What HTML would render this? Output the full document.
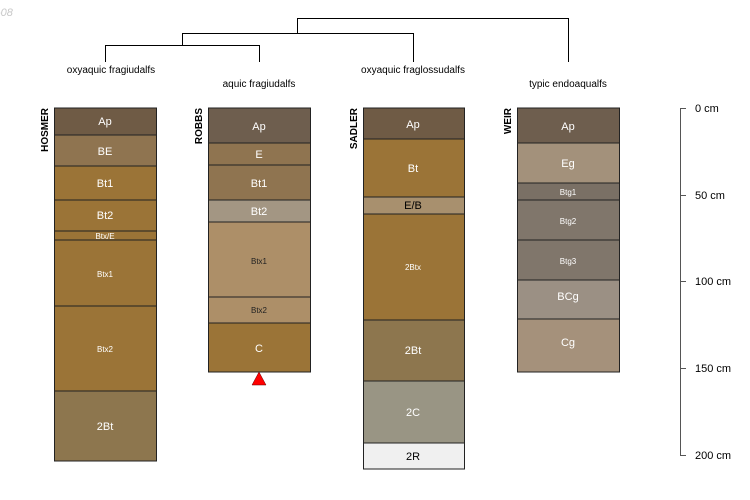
<!DOCTYPE html>
<html><head><meta charset="utf-8"><style>html,body{margin:0;padding:0;background:#fff}svg{display:block}</style></head>
<body>
<svg width="750" height="500" xmlns="http://www.w3.org/2000/svg" font-family="Liberation Sans, sans-serif">
<text x="-3" y="16" font-size="11" font-style="italic" fill="#c8c8c8">-08</text>
<g stroke="#000" stroke-width="1" fill="none">
<path d="M105.5 62V45.5H259.5V62"/>
<path d="M182.5 45V33.5H413.5V62"/>
<path d="M297.5 33V18.5H568.5V62"/>
</g>
<g font-size="10" fill="#000" text-anchor="middle">
<text x="111" y="73">oxyaquic fragiudalfs</text>
<text x="259" y="87">aquic fragiudalfs</text>
<text x="413" y="73">oxyaquic fraglossudalfs</text>
<text x="568" y="87">typic endoaqualfs</text>
</g>
<g stroke="#222" stroke-width="1">
<!-- HOSMER -->
<rect x="54.5" y="108" width="102" height="27" fill="#6f5b45"/>
<rect x="54.5" y="135" width="102" height="31" fill="#8f7450"/>
<rect x="54.5" y="166" width="102" height="34" fill="#9b7437"/>
<rect x="54.5" y="200" width="102" height="31" fill="#9b7437"/>
<rect x="54.5" y="231" width="102" height="9" fill="#9b7437"/>
<rect x="54.5" y="240" width="102" height="66" fill="#9b7437"/>
<rect x="54.5" y="306" width="102" height="85" fill="#9b7437"/>
<rect x="54.5" y="391" width="102" height="70" fill="#8d764e"/>
<!-- ROBBS -->
<rect x="208.5" y="108" width="102" height="35" fill="#6e5e4e"/>
<rect x="208.5" y="143" width="102" height="22" fill="#8f7450"/>
<rect x="208.5" y="165" width="102" height="35" fill="#8f7450"/>
<rect x="208.5" y="200" width="102" height="22" fill="#a39683"/>
<rect x="208.5" y="222" width="102" height="75" fill="#ad8f68"/>
<rect x="208.5" y="297" width="102" height="26" fill="#ad8f68"/>
<rect x="208.5" y="323" width="102" height="49" fill="#9b7437"/>
<!-- SADLER -->
<rect x="363.5" y="108" width="101" height="31" fill="#6f5b45"/>
<rect x="363.5" y="139" width="101" height="58" fill="#9b7437"/>
<rect x="363.5" y="197" width="101" height="17" fill="#a8906e"/>
<rect x="363.5" y="214" width="101" height="106" fill="#9b7437"/>
<rect x="363.5" y="320" width="101" height="61" fill="#8d764e"/>
<rect x="363.5" y="381" width="101" height="62" fill="#999584"/>
<rect x="363.5" y="443" width="101" height="26" fill="#f0f0f0"/>
<!-- WEIR -->
<rect x="517.5" y="108" width="102" height="35" fill="#6e5e4e"/>
<rect x="517.5" y="143" width="102" height="40" fill="#a3917b"/>
<rect x="517.5" y="183" width="102" height="17" fill="#7a7065"/>
<rect x="517.5" y="200" width="102" height="40" fill="#80766b"/>
<rect x="517.5" y="240" width="102" height="40" fill="#80766b"/>
<rect x="517.5" y="280" width="102" height="39" fill="#9b9084"/>
<rect x="517.5" y="319" width="102" height="53" fill="#a5917b"/>
</g>
<g font-size="11" fill="#fff" text-anchor="middle">
<text x="105" y="125">Ap</text><text x="105" y="155">BE</text><text x="105" y="187">Bt1</text><text x="105" y="219">Bt2</text>
<text x="105" y="239" font-size="8">Btx/E</text><text x="105" y="277" font-size="8">Btx1</text><text x="105" y="352" font-size="8">Btx2</text><text x="105" y="430">2Bt</text>
<text x="259" y="130">Ap</text><text x="259" y="158">E</text><text x="259" y="187">Bt1</text><text x="259" y="215">Bt2</text>
<text x="259" y="264" font-size="8" fill="#222">Btx1</text><text x="259" y="313" font-size="8" fill="#222">Btx2</text><text x="259" y="352">C</text>
<text x="413" y="128">Ap</text><text x="413" y="172">Bt</text><text x="413" y="209" fill="#000">E/B</text><text x="413" y="270" font-size="8">2Btx</text>
<text x="413" y="354">2Bt</text><text x="413" y="416">2C</text><text x="413" y="460" fill="#000">2R</text>
<text x="568" y="130">Ap</text><text x="568" y="167">Eg</text><text x="568" y="195" font-size="8">Btg1</text><text x="568" y="224" font-size="8">Btg2</text>
<text x="568" y="264" font-size="8">Btg3</text><text x="568" y="300">BCg</text><text x="568" y="346">Cg</text>
</g>
<g font-size="10" font-weight="bold" fill="#000">
<text transform="translate(48,108) rotate(-90)" text-anchor="end">HOSMER</text>
<text transform="translate(202,108) rotate(-90)" text-anchor="end">ROBBS</text>
<text transform="translate(357,108) rotate(-90)" text-anchor="end">SADLER</text>
<text transform="translate(511,108) rotate(-90)" text-anchor="end">WEIR</text>
</g>
<polygon points="259,372 252,385 266,385" fill="#f00" stroke="#600" stroke-width="0.5"/>
<g stroke="#555" stroke-width="1"><path d="M680.5 108V455M680 108.5H686M680 195.5H686M680 281.5H686M680 368.5H686M680 455.5H686"/></g>
<g font-size="11" fill="#000">
<text x="695" y="112">0 cm</text><text x="695" y="199">50 cm</text><text x="695" y="285">100 cm</text><text x="695" y="372">150 cm</text><text x="695" y="459">200 cm</text>
</g>
</svg>
</body></html>
